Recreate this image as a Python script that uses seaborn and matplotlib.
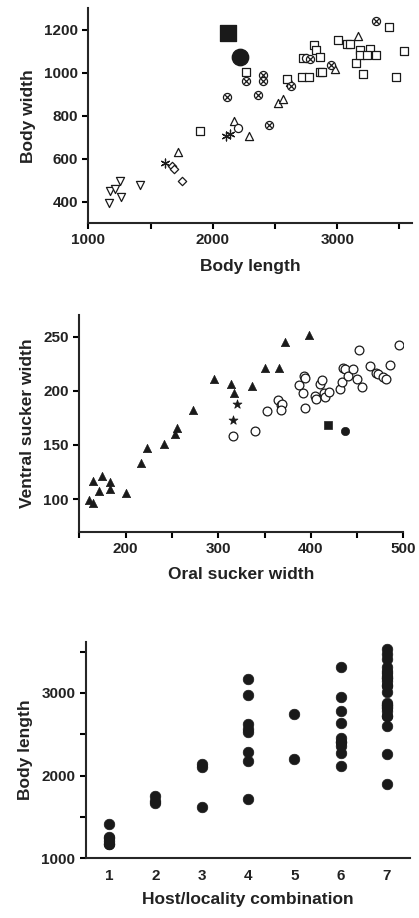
import numpy as np
import pandas as pd
import matplotlib
matplotlib.use('Agg')
import matplotlib.pyplot as plt
from matplotlib.ticker import MultipleLocator
import seaborn as sns

# ---- panel 1 / panel 3 data: body length and width per host/locality group ----
# group 1 (down triangles)
g1_length = [1169, 1174, 1215, 1250, 1260, 1411]
g1_width = [395, 450, 458, 497, 422, 476]
# group 2 (diamonds)
g2_length = [1671, 1690, 1752]
g2_width = [567, 554, 497]
# group 3 (asterisks)
g3_length = [1617, 2109, 2141]
g3_width = [579, 704, 714]
# group 4 (up triangles)
g4_length = [1719, 2173, 2289, 2522, 2562, 2619, 2979, 3169]
g4_width = [633, 774, 707, 859, 878, 959, 1018, 1169]
# group 5 (open circles)
g5_length = [2203, 2745]
g5_width = [741, 1069]
# group 6 (crossed circles)
g6_length = [2114, 2270, 2364, 2404, 2404, 2450, 2632, 2780, 2952, 3309]
g6_width = [886, 963, 897, 987, 963, 756, 940, 1065, 1037, 1240]
# group 7 (open squares)
g7_length = [1899, 2267, 2597, 2718, 2777, 2812, 2831, 2860, 2724, 2858, 2874, 3008,
             3081, 3099, 3148, 3180, 3180, 3263, 3242, 3309, 3204, 3413, 3537, 3475]
g7_width = [728, 1001, 971, 982, 982, 1127, 1104, 1075, 1069, 1004, 1004, 1153,
            1132, 1132, 1044, 1104, 1083, 1111, 1083, 1083, 993, 1211, 1102, 981]
# type specimens (large filled markers)
type_sq_length, type_sq_width = [2122], [1184]
type_ci_length, type_ci_width = [2221], [1071]

# ---- panel 2 data: oral vs ventral sucker width ----
tri_oral = [161, 165, 165, 175, 183, 171, 183, 200, 217, 223, 242, 253, 256, 273,
            296, 314, 317, 337, 350, 366, 372, 398]
tri_ventral = [99, 96, 117, 121, 116, 107, 109, 106, 133, 147, 151, 160, 166, 182,
               211, 206, 198, 204, 221, 221, 245, 251]
star_oral = [316, 320]
star_ventral = [173, 188]
circ_oral = [316, 340, 353, 365, 368, 369, 368, 387, 393, 394, 392, 394, 405, 406,
             410, 412, 414, 415, 420, 431, 434, 435, 437, 440, 446, 450, 452, 455,
             464, 470, 473, 478, 481, 485, 495]
circ_ventral = [158, 163, 181, 191, 187, 188, 182, 205, 214, 212, 198, 184, 195, 192,
                206, 210, 198, 194, 199, 202, 208, 221, 220, 214, 220, 211, 238, 203,
                223, 216, 215, 213, 211, 224, 242]
fsq_oral, fsq_ventral = [419], [168]
fci_oral, fci_ventral = [437], [163]

groups = [g1_length, g2_length, g3_length, g4_length, g5_length, g6_length, g7_length]

sns.set_style('ticks')
plt.rcParams['font.family'] = ['Liberation Sans', 'DejaVu Sans']
plt.rcParams['font.weight'] = 'bold'
plt.rcParams['axes.labelweight'] = 'bold'
plt.rcParams['axes.linewidth'] = 1.5
plt.rcParams['xtick.major.width'] = 1.5
plt.rcParams['ytick.major.width'] = 1.5
plt.rcParams['xtick.minor.width'] = 1.5
plt.rcParams['ytick.minor.width'] = 1.5
plt.rcParams['xtick.major.size'] = 4
plt.rcParams['ytick.major.size'] = 4
plt.rcParams['xtick.minor.size'] = 4
plt.rcParams['ytick.minor.size'] = 4
txt = '#222222'
plt.rcParams['text.color'] = txt
plt.rcParams['axes.labelcolor'] = txt
plt.rcParams['xtick.color'] = 'black'
plt.rcParams['ytick.color'] = 'black'
plt.rcParams['xtick.labelcolor'] = txt
plt.rcParams['ytick.labelcolor'] = txt

fig = plt.figure(figsize=(4.19, 9.18), dpi=100)
ax1 = fig.add_axes([0.211, 0.757, 0.772, 0.234])
ax2 = fig.add_axes([0.189, 0.421, 0.774, 0.236])
ax3 = fig.add_axes([0.205, 0.065, 0.774, 0.236])

tick_fs = 11
label_fs = 12.5
open_kw = dict(facecolor='white', edgecolor='#1a1a1a', linewidth=0.9)
s_open = 34

# ---- panel 1 ----
sns.scatterplot(x=g1_length, y=g1_width, marker='v', s=s_open, ax=ax1, **open_kw)
sns.scatterplot(x=g2_length, y=g2_width, marker='D', s=18, ax=ax1, **open_kw)
sns.scatterplot(x=g3_length, y=g3_width, marker=(6, 2, 0), s=40, ax=ax1,
                color='#1a1a1a', linewidth=0.9)
sns.scatterplot(x=g4_length, y=g4_width, marker='^', s=s_open, ax=ax1, **open_kw)
sns.scatterplot(x=g7_length, y=g7_width, marker='s', s=s_open, ax=ax1, **open_kw)
sns.scatterplot(x=g5_length, y=g5_width, marker='o', s=s_open, ax=ax1, **open_kw)
sns.scatterplot(x=g6_length, y=g6_width, marker='o', s=s_open, ax=ax1, **open_kw)
sns.scatterplot(x=g6_length, y=g6_width, marker='x', s=14, ax=ax1,
                color='#1a1a1a', linewidth=0.9)
sns.scatterplot(x=type_sq_length, y=type_sq_width, marker='s', s=140, ax=ax1,
                color='#1a1a1a', edgecolor='#1a1a1a')
sns.scatterplot(x=type_ci_length, y=type_ci_width, marker='o', s=140, ax=ax1,
                color='#1a1a1a', edgecolor='#1a1a1a')
ax1.set_xlim(1000, 3600)
ax1.set_ylim(300, 1300)
ax1.set_xticks([1000, 2000, 3000])
ax1.xaxis.set_minor_locator(MultipleLocator(500))
ax1.set_yticks([400, 600, 800, 1000, 1200])
ax1.set_xlabel('Body length', fontsize=label_fs, labelpad=8)
ax1.set_ylabel('Body width', fontsize=label_fs, labelpad=6)

# ---- panel 2 ----
sns.scatterplot(x=tri_oral, y=tri_ventral, marker='^', s=36, ax=ax2,
                color='#1a1a1a', edgecolor='#1a1a1a')
sns.scatterplot(x=star_oral, y=star_ventral, marker='*', s=45, ax=ax2,
                color='#1a1a1a', edgecolor='#1a1a1a')
sns.scatterplot(x=circ_oral, y=circ_ventral, marker='o', s=40, ax=ax2, **open_kw)
sns.scatterplot(x=fsq_oral, y=fsq_ventral, marker='s', s=36, ax=ax2,
                color='#1a1a1a', edgecolor='#1a1a1a')
sns.scatterplot(x=fci_oral, y=fci_ventral, marker='o', s=36, ax=ax2,
                color='#1a1a1a', edgecolor='#1a1a1a')
ax2.set_xlim(150, 500)
ax2.set_ylim(70, 270)
ax2.set_xticks([200, 300, 400, 500])
ax2.xaxis.set_minor_locator(MultipleLocator(50))
ax2.set_yticks([100, 150, 200, 250])
ax2.set_xlabel('Oral sucker width', fontsize=label_fs, labelpad=8)
ax2.set_ylabel('Ventral sucker width', fontsize=label_fs, labelpad=6)

# ---- panel 3 ----
combo = np.concatenate([[i + 1] * len(g) for i, g in enumerate(groups)])
lengths = np.concatenate(groups)
df3 = pd.DataFrame({'combination': combo, 'length': lengths})
sns.scatterplot(data=df3, x='combination', y='length', marker='o', s=58, ax=ax3,
                color='#1a1a1a', edgecolor='#1a1a1a', linewidth=0.5)
ax3.set_xlim(0.5, 7.5)
ax3.set_ylim(1000, 3620)
ax3.set_xticks(range(1, 8))
ax3.set_yticks([1000, 2000, 3000])
ax3.yaxis.set_minor_locator(MultipleLocator(500))
ax3.tick_params(axis='x', length=0, pad=8)
ax3.set_xlabel('Host/locality combination', fontsize=label_fs, labelpad=6)
ax3.set_ylabel('Body length', fontsize=label_fs, labelpad=6)

for ax in (ax1, ax2, ax3):
    sns.despine(ax=ax)
    ax.tick_params(labelsize=tick_fs)
    for lab in ax.get_xticklabels() + ax.get_yticklabels():
        lab.set_fontweight('bold')

fig.savefig('out.png', dpi=100)
